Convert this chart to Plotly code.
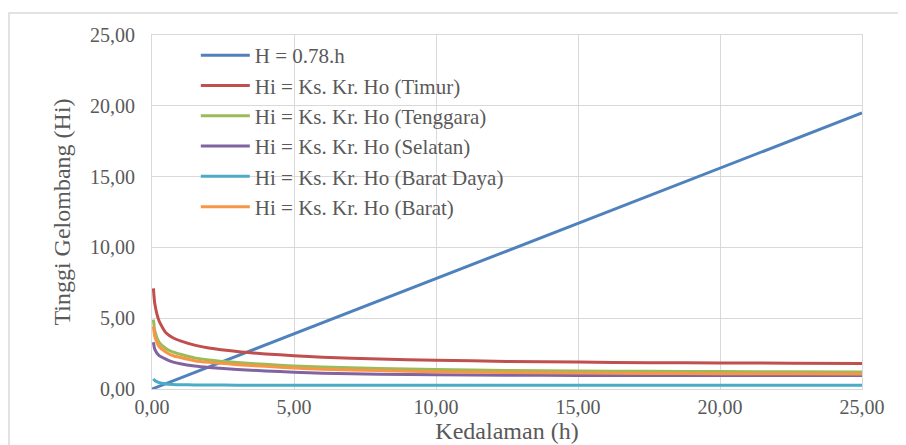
import plotly.graph_objects as go

# Depth values (h) in metres
depth = [0.05, 0.1, 0.25, 0.5, 0.75, 1, 1.5, 2, 3, 4, 5, 6, 8, 10, 12.5, 15, 17.5, 20, 22.5, 25]
depth_line = [0, 25]
breaking_h = [0.0, 19.5]  # H = 0.78.h

timur = [7.1, 6.0, 4.8, 3.95, 3.6, 3.4, 3.1, 2.9, 2.65, 2.48, 2.35, 2.25, 2.12, 2.03, 1.95, 1.9, 1.86, 1.84, 1.82, 1.8]
tenggara = [4.9, 4.1, 3.3, 2.85, 2.6, 2.45, 2.2, 2.05, 1.87, 1.74, 1.62, 1.55, 1.45, 1.37, 1.31, 1.27, 1.25, 1.23, 1.21, 1.2]
selatan = [3.3, 2.8, 2.35, 2.1, 1.9, 1.78, 1.62, 1.52, 1.38, 1.28, 1.18, 1.12, 1.05, 1.0, 0.97, 0.96, 0.95, 0.95, 0.95, 0.95]
barat_daya = [0.72, 0.6, 0.45, 0.36, 0.32, 0.3, 0.29, 0.28, 0.27, 0.27, 0.26, 0.26, 0.26, 0.26, 0.26, 0.26, 0.26, 0.26, 0.26, 0.26]
barat = [4.4, 3.7, 3.0, 2.6, 2.35, 2.22, 2.0, 1.88, 1.72, 1.6, 1.48, 1.4, 1.3, 1.22, 1.16, 1.13, 1.1, 1.08, 1.07, 1.06]

names = [
    "H = 0.78.h",
    "Hi = Ks. Kr. Ho (Timur)",
    "Hi = Ks. Kr. Ho (Tenggara)",
    "Hi = Ks. Kr. Ho (Selatan)",
    "Hi = Ks. Kr. Ho (Barat Daya)",
    "Hi = Ks. Kr. Ho (Barat)",
]
colors = ["#4F81BD", "#C0504D", "#9BBB59", "#8064A2", "#4BACC6", "#F79646"]
series = [timur, tenggara, selatan, barat_daya, barat]

fig = go.Figure()
fig.add_trace(go.Scatter(x=depth_line, y=breaking_h, mode="lines", name=names[0],
                         line=dict(color=colors[0], width=3)))
for nm, col, ys in zip(names[1:], colors[1:], series):
    fig.add_trace(go.Scatter(x=depth, y=ys, mode="lines", name=nm,
                             line=dict(color=col, width=3, shape="spline", smoothing=0.6)))

grid = "#D9D9D9"
ff = "Times New Roman, Liberation Serif, serif"
txt = "#595959"
fig.update_layout(
    width=906, height=445,
    margin=dict(l=144, r=52, t=27, b=64, autoexpand=False),
    paper_bgcolor="white", plot_bgcolor="white",
    separators=",.",
    font=dict(family=ff, color=txt, size=20),
    showlegend=True,
    legend=dict(x=0.0617, y=1.0, xanchor="left", yanchor="top",
                bgcolor="rgba(0,0,0,0)", font=dict(family=ff, size=21, color=txt),
                tracegroupgap=0, itemwidth=49),
    xaxis=dict(range=[0, 25], dtick=5, tick0=0, tickformat=".2f",
               showgrid=True, gridcolor=grid, gridwidth=1,
               showline=True, linecolor=grid, linewidth=1, mirror=True,
               zeroline=False, ticks="", automargin=False,
               tickfont=dict(family=ff, size=20, color=txt),
               title=dict(text="Kedalaman (h)", font=dict(family=ff, size=24, color=txt), standoff=0)),
    yaxis=dict(range=[0, 25], dtick=5, tick0=0, tickformat=".2f",
               showgrid=True, gridcolor=grid, gridwidth=1,
               showline=True, linecolor=grid, linewidth=1, mirror=True,
               zeroline=False, ticks="", ticklabelstandoff=12, automargin=False,
               tickfont=dict(family=ff, size=20, color=txt),
               title=dict(text="Tinggi Gelombang (Hi)", font=dict(family=ff, size=24, color=txt), standoff=12)),
)

# chart-area border (extends beyond the visible frame at right and bottom)
fig.add_shape(type="rect", xref="paper", yref="paper",
              x0=-0.2014, x1=1.07, y0=-0.3, y1=1.0621,
              line=dict(color=grid, width=1.5), fillcolor="rgba(0,0,0,0)", layer="below")

fig.write_html("out.html")
